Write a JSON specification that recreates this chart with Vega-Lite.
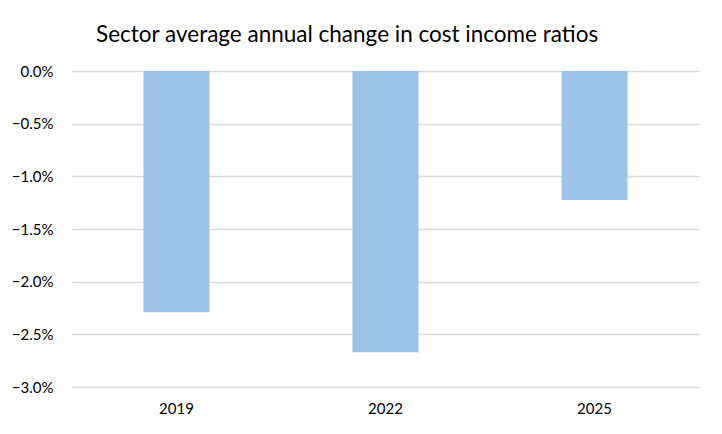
{
  "$schema": "https://vega.github.io/schema/vega-lite/v6.json",
  "width": 627,
  "height": 316,
  "autosize": {"type": "none"},
  "padding": {"left": 72, "top": 71, "right": 23, "bottom": 47},
  "background": "white",
  "title": {
    "text": "Sector average annual change in cost income ratios",
    "anchor": "start",
    "frame": "group",
    "dx": 24,
    "offset": 18,
    "font": "Lato",
    "fontSize": 22.5,
    "fontWeight": "normal",
    "color": "#000000"
  },
  "data": {
    "values": [
      {"year": "2019", "change": -0.0229},
      {"year": "2022", "change": -0.0267},
      {"year": "2025", "change": -0.01225}
    ]
  },
  "mark": {"type": "bar", "color": "#9dc3e6"},
  "encoding": {
    "x": {
      "field": "year",
      "type": "nominal",
      "scale": {"paddingInner": 0.684, "paddingOuter": 0.342},
      "axis": {
        "title": null,
        "labelAngle": 0,
        "domain": false,
        "ticks": false,
        "labelPadding": 14,
        "labelFont": "Lato",
        "labelFontSize": 15,
        "labelColor": "#000000"
      }
    },
    "y": {
      "field": "change",
      "type": "quantitative",
      "scale": {"domain": [-0.03, 0], "nice": false, "zero": false},
      "axis": {
        "title": null,
        "format": ".1%",
        "values": [0, -0.005, -0.01, -0.015, -0.02, -0.025, -0.03],
        "domain": false,
        "ticks": false,
        "labelPadding": 19,
        "labelFont": "Lato",
        "labelFontSize": 15,
        "labelColor": "#000000",
        "gridColor": "#d9d9d9",
        "gridWidth": 1.5
      }
    }
  },
  "config": {"view": {"stroke": null}}
}
